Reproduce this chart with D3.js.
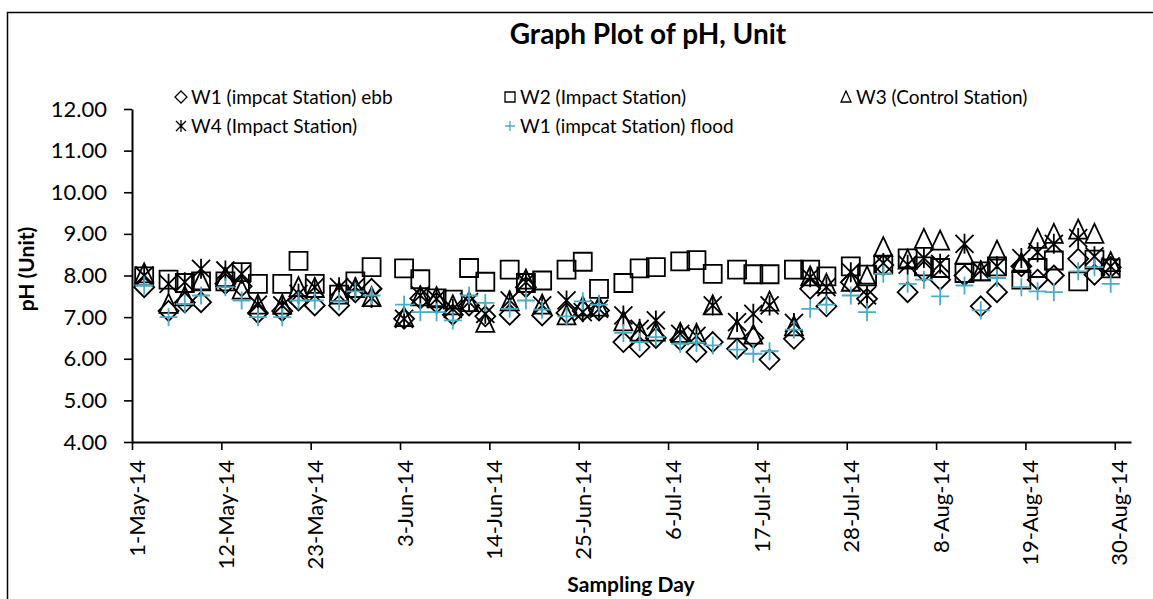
<!DOCTYPE html>
<html>
<head>
<title>Graph Plot of pH</title>

<script src="https://d3js.org/d3.v7.min.js"></script>

<style>

body,html {
  margin: 0;
  padding: 0;
  background: #fff;
}

svg {
  display: block;
  font-family: Lato, "Noto Sans", sans-serif;
}

</style>

</head>

<body>

<svg id="chart" width="1153" height="599"></svg>

<script>

// sampling days (Mon / Wed / Fri mostly)
const sampleDays = [
  "2-May-14","5-May-14","7-May-14","9-May-14","12-May-14","14-May-14","16-May-14","19-May-14","21-May-14","23-May-14","26-May-14","28-May-14","30-May-14",
  "3-Jun-14","5-Jun-14","7-Jun-14","9-Jun-14","11-Jun-14","13-Jun-14","16-Jun-14","18-Jun-14","20-Jun-14","23-Jun-14","25-Jun-14","27-Jun-14","30-Jun-14",
  "2-Jul-14","4-Jul-14","7-Jul-14","9-Jul-14","11-Jul-14","14-Jul-14","16-Jul-14","18-Jul-14","21-Jul-14","23-Jul-14","25-Jul-14","28-Jul-14","30-Jul-14",
  "1-Aug-14","4-Aug-14","6-Aug-14","8-Aug-14","11-Aug-14","13-Aug-14","15-Aug-14","18-Aug-14","20-Aug-14","22-Aug-14","25-Aug-14","27-Aug-14","29-Aug-14"
];

const w1EbbPH = [
  7.72, 7.15, 7.35, 7.36, 7.80, 7.74, 7.10, 7.15, 7.40, 7.28, 7.28, 7.60, 7.68,
  6.96, 7.45, 7.34, 7.06, 7.28, 7.02, 7.06, 7.72, 7.04, 7.10, 7.15, 7.16, 6.40,
  6.28, 6.50, 6.45, 6.16, 6.40, 6.24, 6.50, 5.98, 6.48, 7.68, 7.26, 7.84, 7.44,
  8.25, 7.60, 8.10, 7.90, 8.00, 7.26, 7.60, 8.22, 7.90, 8.00, 8.40, 8.02, 8.20
];

const w2ImpactPH = [
  7.98, 7.90, 7.82, 7.86, 7.86, 8.08, 7.80, 7.80, 8.35, 7.80, 7.54, 7.86, 8.20,
  8.17, 7.91, 7.45, 7.42, 8.18, 7.85, 8.14, 7.82, 7.88, 8.14, 8.33, 7.68, 7.82,
  8.17, 8.20, 8.34, 8.37, 8.04, 8.14, 8.03, 8.03, 8.14, 8.14, 7.98, 8.22, 8.02,
  8.26, 8.41, 8.22, 8.18, 8.06, 8.10, 8.22, 7.90, 8.18, 8.36, 7.86, 8.38, 8.17
];

const w3ControlPH = [
  8.05, 7.32, 7.50, 7.88, 7.96, 7.66, 7.30, 7.30, 7.72, 7.70, 7.60, 7.70, 7.48,
  7.00, 7.50, 7.48, 7.28, 7.36, 6.86, 7.38, 7.90, 7.30, 7.04, 7.25, 7.25, 6.90,
  6.65, 6.65, 6.62, 6.60, 7.28, 6.70, 6.58, 7.37, 6.78, 7.98, 7.80, 7.85, 7.98,
  8.68, 8.38, 8.88, 8.84, 8.50, 8.10, 8.60, 8.30, 8.88, 9.00, 9.10, 9.00, 8.32
];

const w4ImpactPH = [
  8.00, 7.80, 7.84, 8.16, 8.12, 8.04, 7.30, 7.28, 7.56, 7.72, 7.72, 7.72, 7.46,
  6.96, 7.52, 7.44, 7.20, 7.36, 7.08, 7.40, 7.84, 7.28, 7.40, 7.12, 7.20, 7.04,
  6.72, 6.92, 6.60, 6.55, 7.28, 6.88, 7.08, 7.28, 6.86, 7.96, 7.72, 8.08, 7.52,
  8.30, 8.26, 8.42, 8.28, 8.76, 8.12, 8.22, 8.42, 8.56, 8.76, 8.90, 8.46, 8.22
];

const w1FloodPH = [
  7.76, 7.00, 7.32, 7.52, 7.72, 7.40, 7.00, 7.00, 7.40, 7.40, 7.38, 7.62, 7.52,
  7.30, 7.12, 7.12, 6.92, 7.52, 7.34, 7.20, 7.40, 7.18, 7.02, 7.38, 7.30, 6.62,
  6.40, 6.52, 6.36, 6.38, 6.32, 6.22, 6.12, 6.18, 6.70, 7.20, 7.30, 7.52, 7.12,
  8.04, 7.80, 7.90, 7.50, 7.76, 7.16, 7.94, 7.72, 7.62, 7.60, 8.10, 8.20, 7.80
];

const seriesNames = [
  "W1 (impcat Station) ebb",
  "W2 (Impact Station)",
  "W3 (Control Station)",
  "W4 (Impact Station)",
  "W1 (impcat Station) flood"
];

const xTickLabels = ["1-May-14","12-May-14","23-May-14","3-Jun-14","14-Jun-14","25-Jun-14",
                     "6-Jul-14","17-Jul-14","28-Jul-14","8-Aug-14","19-Aug-14","30-Aug-14"];
const xDomain = ["1-May-14", "1-Sep-14"];
const yTickValues = [4, 5, 6, 7, 8, 9, 10, 11, 12];

const parseDay = d3.timeParse("%d-%b-%y");

main();

function main() {
  const svg = d3.select("#chart");

  let plot = { left: 132, right: 1131, top: 109, bottom: 442 };

  // chart area border (runs off the right / bottom of the picture)
  svg.append("rect")
     .attr("x", 7.5).attr("y", 12.5)
     .attr("width", 1400).attr("height", 800)
     .attr("fill", "none")
     .attr("stroke", "#000")
     .attr("stroke-width", 1.5);

  let xScale = d3.scaleTime()
                 .domain(xDomain.map(parseDay))
                 .range([plot.left, plot.right]);

  let yScale = d3.scaleLinear()
                 .domain([4, 12])
                 .range([plot.bottom, plot.top]);

  drawAxes(svg, plot, xScale, yScale);

  const series = [
    { name: seriesNames[0], values: w1EbbPH,     marker: "diamond",  color: "#000" },
    { name: seriesNames[1], values: w2ImpactPH,  marker: "square",   color: "#000" },
    { name: seriesNames[2], values: w3ControlPH, marker: "triangle", color: "#000" },
    { name: seriesNames[3], values: w4ImpactPH,  marker: "star",     color: "#000" },
    { name: seriesNames[4], values: w1FloodPH,   marker: "plus",     color: "#4BACC6" }
  ];

  const days = sampleDays.map(parseDay);

  for (const s of series) {
    let pts = days.map((d, i) => ({ x: d3.timeHour.offset(d, 12), y: s.values[i] }));
    svg.append("g")
       .selectAll("path")
       .data(pts)
       .join("path")
         .attr("transform", d => "translate(" + xScale(d.x) + "," + yScale(d.y) + ")")
         .attr("d", markerPath(s.marker, 9))
         .attr("fill", "none")
         .attr("stroke", s.color)
         .attr("stroke-width", 1.8);
  }

  drawLegend(svg, series);

  // titles
  svg.append("text")
     .attr("x", 648).attr("y", 44)
     .attr("text-anchor", "middle")
     .style("font-size", "28px")
     .style("font-weight", "bold")
     .text("Graph Plot of pH, Unit");

  svg.append("text")
     .attr("transform", "translate(34,269) rotate(-90)")
     .attr("text-anchor", "middle")
     .style("font-size", "21px")
     .style("font-weight", "bold")
     .text("pH (Unit)");

  svg.append("text")
     .attr("x", 631).attr("y", 592)
     .attr("text-anchor", "middle")
     .style("font-size", "21px")
     .style("font-weight", "bold")
     .text("Sampling Day");
}

function drawAxes(svg, plot, xScale, yScale) {
  let yAxis = d3.axisLeft(yScale)
                .tickValues(yTickValues)
                .tickFormat(d3.format(".2f"))
                .tickSize(8)
                .tickSizeOuter(0)
                .tickPadding(17);

  let gy = svg.append("g")
     .attr("transform", "translate(" + plot.left + ",0)")
     .style("font-size", "22px")
     .call(yAxis);

  let xAxis = d3.axisBottom(xScale)
                .tickValues(xTickLabels.map(parseDay))
                .tickFormat((d, i) => xTickLabels[i])
                .tickSize(8)
                .tickSizeOuter(0);

  let gx = svg.append("g")
     .attr("transform", "translate(0," + plot.bottom + ")")
     .style("font-size", "22px")
     .call(xAxis);

  gx.selectAll("text")
    .attr("transform", "rotate(-90)")
    .attr("text-anchor", "end")
    .attr("x", -18)
    .attr("y", 0)
    .attr("dy", "0.55em");

  for (const g of [gx, gy]) {
    g.attr("font-family", null);
    g.selectAll("text").attr("fill", "#000");
    g.select(".domain").attr("stroke", "#000").attr("stroke-width", 2);
    g.selectAll(".tick line").attr("stroke", "#000").attr("stroke-width", 1.6);
  }
}

function drawLegend(svg, series) {
  const cols = [181, 510, 846];
  const rows = [97, 126];

  series.forEach(function(s, i) {
    let cx = cols[i % 3];
    let cy = rows[Math.floor(i / 3)];

    svg.append("path")
       .attr("transform", "translate(" + cx + "," + cy + ")")
       .attr("d", markerPath(s.marker, 5))
       .attr("fill", "none")
       .attr("stroke", s.color)
       .attr("stroke-width", 1.3);

    svg.append("text")
       .attr("x", cx + 10)
       .attr("y", cy)
       .attr("dy", "0.36em")
       .style("font-size", "19px")
       .text(s.name);
  });
}

function markerPath(type, r) {
  switch (type) {
    case "diamond":
      return "M0," + (-r - 1) + "L" + (r + 1) + ",0L0," + (r + 1) + "L" + (-r - 1) + ",0Z";
    case "square":
      return "M" + (-r) + "," + (-r) + "H" + r + "V" + r + "H" + (-r) + "Z";
    case "triangle":
      return "M0," + (-r - 1) + "L" + r + "," + r + "L" + (-r) + "," + r + "Z";
    case "star":
      return "M" + (-r) + "," + (-r) + "L" + r + "," + r +
             "M" + (-r) + "," + r + "L" + r + "," + (-r) +
             "M0," + (-r - 1) + "V" + (r + 1);
    case "plus":
      return "M" + (-r) + ",0H" + r + "M0," + (-r) + "V" + r;
  }
}

</script>

</body>
</html>
